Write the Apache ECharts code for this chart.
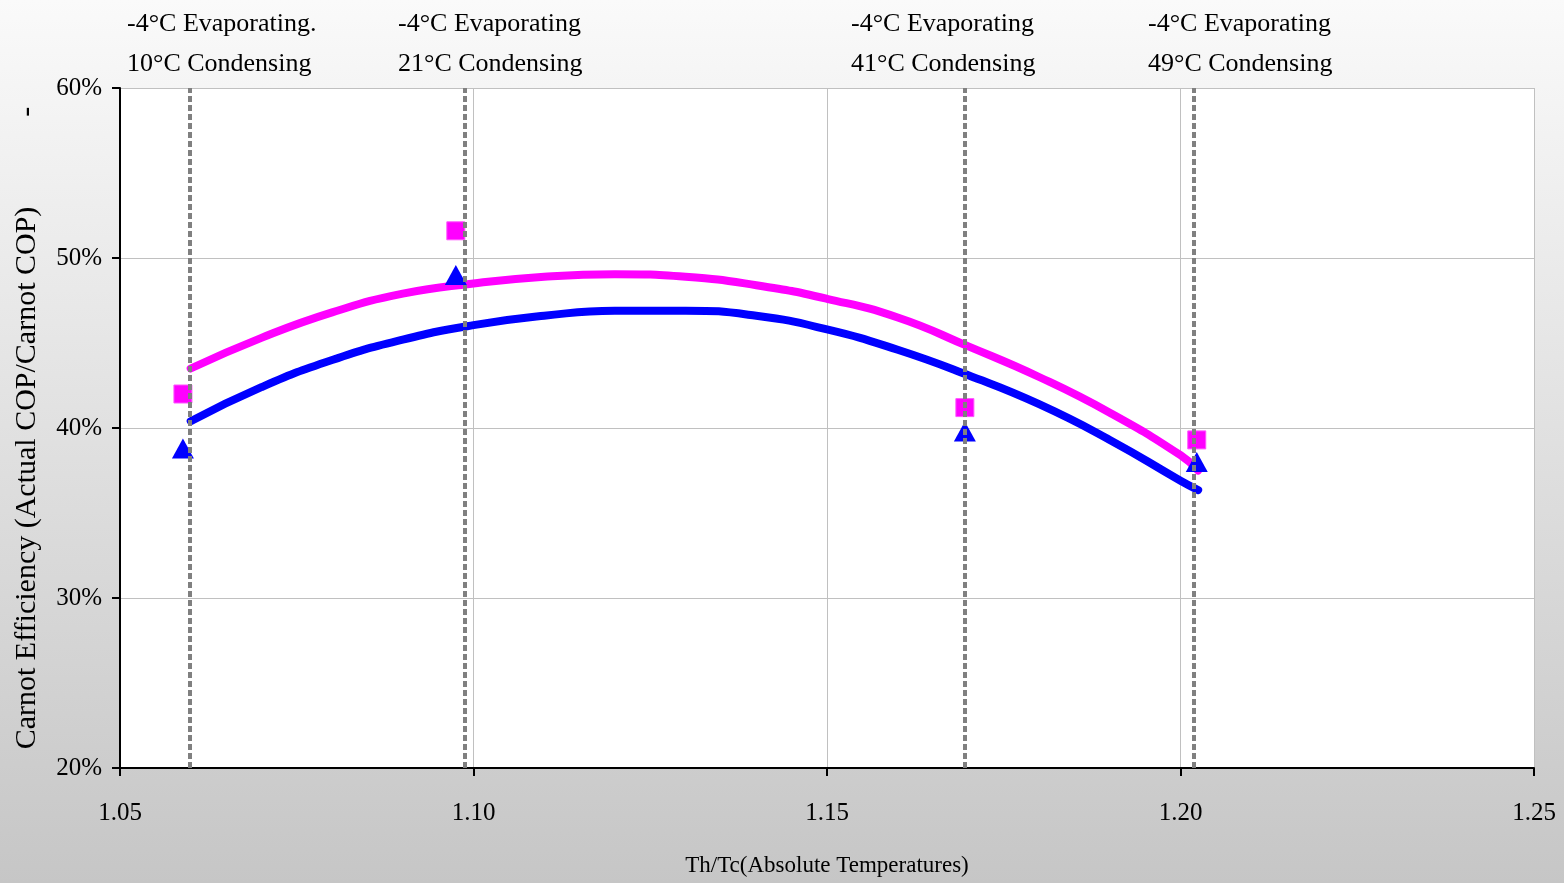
<!DOCTYPE html>
<html>
<head>
<meta charset="utf-8">
<script src="https://cdn.jsdelivr.net/npm/echarts@6/dist/echarts.min.js"></script>
<style>
  html, body { margin: 0; padding: 0; }
  #chart { width: 1564px; height: 883px; }
</style>
</head>
<body>
<div id="chart"></div>
<script>
// fitted curves (Th/Tc, efficiency %)
const curveX = [1.06, 1.07, 1.08, 1.09, 1.10, 1.11, 1.12, 1.13, 1.14, 1.15, 1.16, 1.17, 1.18, 1.19, 1.20, 1.2025]
const pinkCurve = [43.5, 45.3, 46.8, 47.9, 48.5, 48.9, 49.05, 48.9, 48.4, 47.6, 46.5, 44.8, 43.0, 40.9, 38.4, 37.5]
const blueCurve = [40.4, 42.4, 44.0, 45.2, 46.05, 46.6, 46.9, 46.9, 46.6, 45.8, 44.6, 43.1, 41.4, 39.3, 36.9, 36.35]

// measured points
const pointX = [1.0589, 1.0975, 1.1695, 1.2023]
const pinkPoints = [42.0, 51.6, 41.2, 39.3]
const bluePoints = [38.8, 49.0, 39.8, 38.0]

// operating condition markers
const markerX = [1.0598, 1.0987, 1.1695, 1.2019]
const evapLabels = ['-4°C Evaporating.', '-4°C Evaporating', '-4°C Evaporating', '-4°C Evaporating']
const condLabels = ['10°C Condensing', '21°C Condensing', '41°C Condensing', '49°C Condensing']
const labelLeft = [127, 398, 851, 1148]

const FONT = 'Liberation Serif'

var chartDom = document.getElementById('chart')
var myChart = echarts.init(chartDom)

const zip = (xs, ys) => xs.map((x, i) => [x, ys[i]])

const graphic = []
labelLeft.forEach((left, i) => {
  graphic.push({
    type: 'text', left: left, top: 4,
    style: { text: evapLabels[i] + '\n' + condLabels[i], font: '26px "' + FONT + '"', fill: '#000', lineHeight: 40 }
  })
})

const option = {
  animation: false,
  backgroundColor: new echarts.graphic.LinearGradient(0, 0, 0, 1, [
    { offset: 0, color: '#fafafa' },
    { offset: 1, color: '#c6c6c6' }
  ]),
  grid: {
    left: 120, right: 30, top: 88, bottom: 115,
    containLabel: false, outerBoundsMode: 'none',
    show: true, backgroundColor: '#ffffff', borderWidth: 0
  },
  graphic: graphic,
  xAxis: {
    type: 'value', min: 1.05, max: 1.25, interval: 0.05,
    name: 'Th/Tc(Absolute Temperatures)',
    nameLocation: 'middle', nameGap: 86,
    nameTextStyle: { fontFamily: FONT, fontSize: 23, color: '#000' },
    axisLine: { lineStyle: { color: '#000', width: 2 } },
    axisTick: { show: true, length: 8, lineStyle: { color: '#000', width: 2 } },
    axisLabel: { fontFamily: FONT, fontSize: 25, color: '#000', margin: 33, formatter: v => v.toFixed(2) },
    splitLine: { show: true, lineStyle: { color: '#c0c0c0', width: 1 } }
  },
  yAxis: {
    type: 'value', min: 20, max: 60, interval: 10,
    name: 'Carnot Efficiency (Actual COP/Carnot COP)            -',
    nameLocation: 'middle', nameGap: 78,
    nameTextStyle: { fontFamily: FONT, fontSize: 30, color: '#000' },
    axisLine: { show: true, lineStyle: { color: '#000', width: 2 } },
    axisTick: { show: true, length: 8, lineStyle: { color: '#000', width: 2 } },
    axisLabel: { fontFamily: FONT, fontSize: 25, color: '#000', margin: 18, formatter: '{value}%' },
    splitLine: { show: true, lineStyle: { color: '#c0c0c0', width: 1 } }
  },
  series: [
    {
      type: 'line', data: zip(curveX, pinkCurve), smooth: true, showSymbol: false,
      lineStyle: { color: '#ff00ff', width: 8, cap: 'round' }, z: 3
    },
    {
      type: 'line', data: zip(curveX, blueCurve), smooth: true, showSymbol: false,
      lineStyle: { color: '#0000ff', width: 8, cap: 'round' }, z: 3
    },
    {
      type: 'scatter', data: zip(pointX, pinkPoints), symbol: 'rect', symbolSize: 18,
      itemStyle: { color: '#ff00ff', opacity: 1, borderColor: '#ff55ff', borderWidth: 1 }, z: 4
    },
    {
      type: 'scatter', data: zip(pointX, bluePoints), symbol: 'triangle', symbolSize: [22, 20],
      itemStyle: { color: '#0000ff', opacity: 1 }, z: 4
    },
    {
      type: 'line', data: [], z: 5,
      markLine: {
        silent: true, symbol: ['none', 'none'], label: { show: false }, precision: 4,
        lineStyle: { color: '#808080', width: 4, type: [6, 3], opacity: 1 },
        data: markerX.map(x => ({ xAxis: x }))
      }
    }
  ]
}

option && myChart.setOption(option)
</script>
</body>
</html>
